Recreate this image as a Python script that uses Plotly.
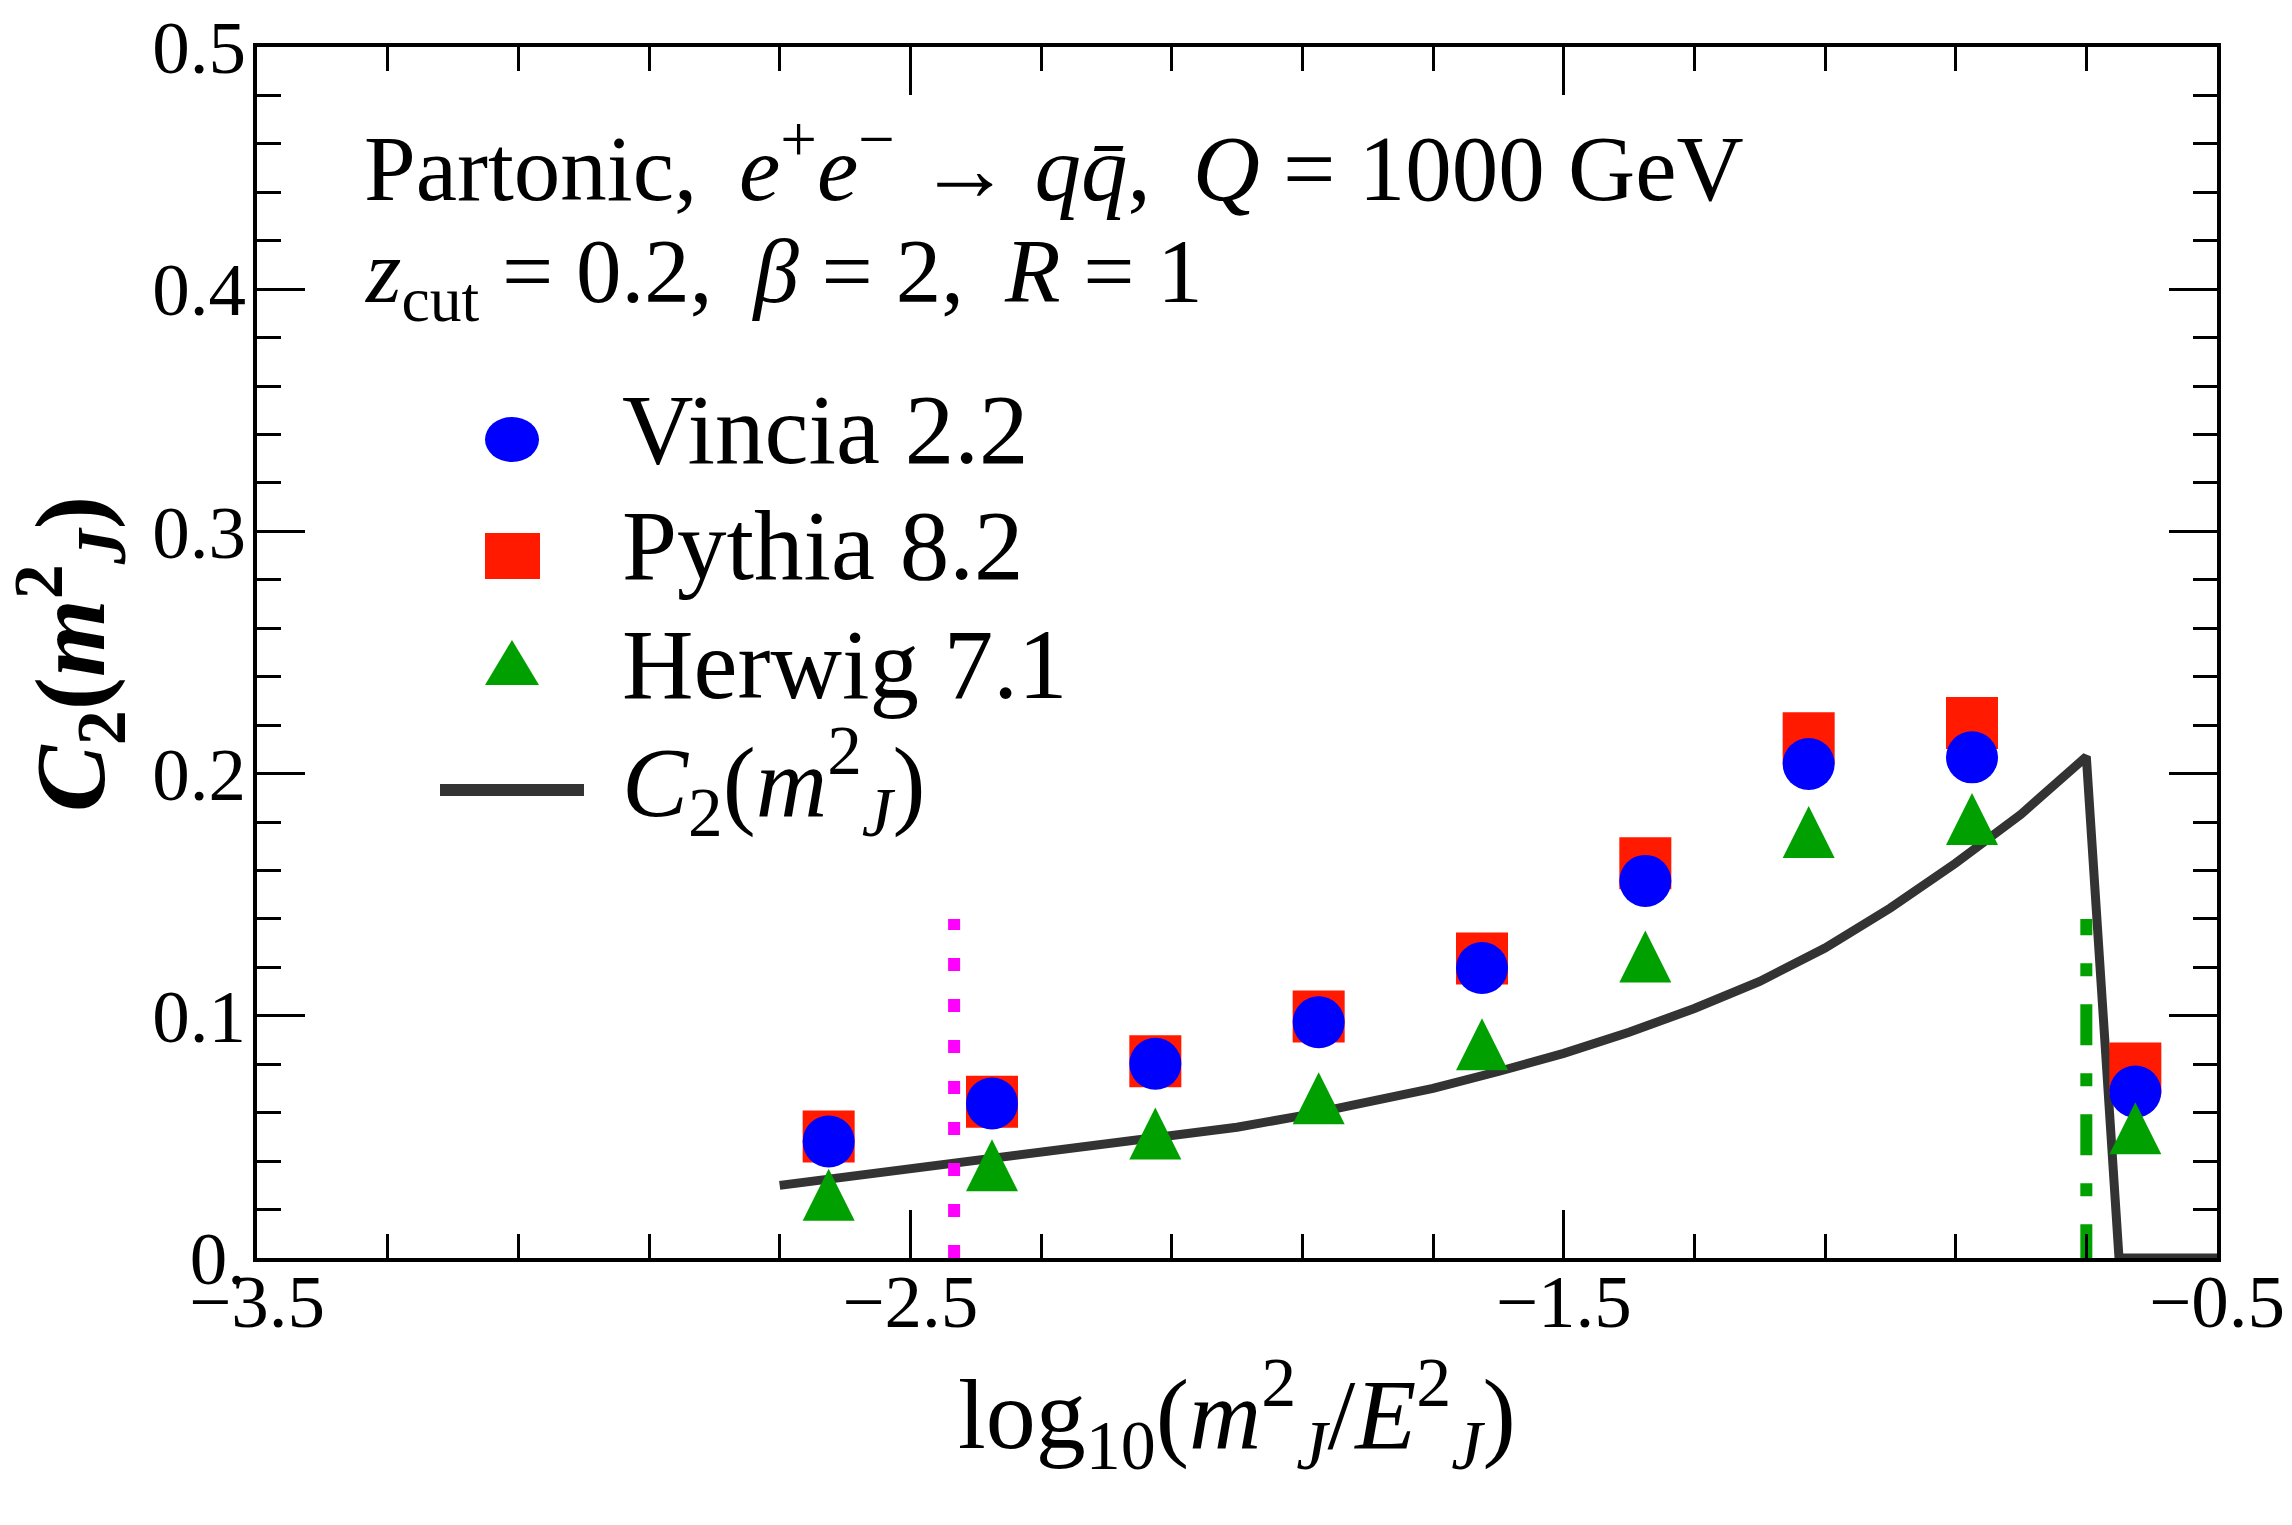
import plotly.graph_objects as go

# ---------------- data ----------------
bin_x = [-2.625, -2.375, -2.125, -1.875, -1.625, -1.375, -1.125, -0.875, -0.625]
vincia = [0.0481, 0.0638, 0.0802, 0.0973, 0.1197, 0.1557, 0.2040, 0.2067, 0.0687]
pythia = [0.0502, 0.0645, 0.0812, 0.0997, 0.1237, 0.1630, 0.2146, 0.2209, 0.0782]
herwig = [0.0261, 0.0383, 0.0514, 0.0660, 0.0883, 0.1245, 0.1759, 0.1813, 0.0536]

curve_x = [-2.70, -2.60, -2.50, -2.40, -2.30, -2.20, -2.10, -2.00, -1.90, -1.80, -1.70,
           -1.60, -1.50, -1.40, -1.30, -1.20, -1.10, -1.00, -0.90, -0.80, -0.70,
           -0.65, -0.50]
curve_y = [0.0300, 0.0334, 0.0367, 0.0398, 0.0430, 0.0464, 0.0500, 0.0540, 0.0588, 0.0640, 0.0700,
           0.0770, 0.0845, 0.0932, 0.1030, 0.1142, 0.1280, 0.1445, 0.1630, 0.1832, 0.2070,
           0.0, 0.0]

np_boundary_x = -2.433      # magenta dotted
resum_boundary_x = -0.70    # green dot-dashed
boundary_top = 0.14

x_range = [-3.5, -0.5]
y_range = [0.0, 0.5]
y_tickvals = [0.0, 0.1, 0.2, 0.3, 0.4, 0.5]
y_ticktext = ["0.", "0.1", "0.2", "0.3", "0.4", "0.5"]

legend_labels = ["Vincia 2.2", "Pythia 8.2", "Herwig 7.1",
                 "<i>C</i><sub>2</sub>(<i>m</i><sup>2</sup><sub><i>J</i></sub>)"]

# ---------------- layout geometry ----------------
W, H = 2292, 1525
L, R, T, B = 257, 2217, 47, 1258
PW, PH = R - L, B - T

BLUE = "#0000FF"
RED = "#FF1A00"
GREEN = "#00A000"
MAGENTA = "#FF00FF"
GREY = "#333333"
FONT = "Liberation Serif, Times New Roman, serif"

def px(xp):
    return (xp - L) / PW

def py(yp):
    return (B - yp) / PH

MS = 52
tri_offset = (MS / 2) / PH * (y_range[1] - y_range[0])

fig = go.Figure()

# theory curve
fig.add_trace(go.Scatter(x=curve_x, y=curve_y, mode="lines",
                         line=dict(color=GREY, width=9),
                         showlegend=False, hoverinfo="skip"))

# boundaries
fig.add_trace(go.Scatter(x=[np_boundary_x, np_boundary_x], y=[0, boundary_top], mode="lines",
                         line=dict(color=MAGENTA, width=12, dash="13px,28px"),
                         showlegend=False, hoverinfo="skip"))
fig.add_trace(go.Scatter(x=[resum_boundary_x, resum_boundary_x], y=[-0.003, boundary_top], mode="lines",
                         line=dict(color=GREEN, width=12, dash="41px,28px,13px,28px"),
                         showlegend=False, hoverinfo="skip"))

# MC points
fig.add_trace(go.Scatter(x=bin_x, y=pythia, mode="markers", name="Pythia 8.2",
                         marker=dict(symbol="square", size=MS, color=RED, line=dict(width=0)),
                         showlegend=False))
fig.add_trace(go.Scatter(x=bin_x, y=vincia, mode="markers", name="Vincia 2.2",
                         marker=dict(symbol="circle", size=MS, color=BLUE, line=dict(width=0)),
                         showlegend=False))
fig.add_trace(go.Scatter(x=bin_x, y=[v + tri_offset for v in herwig], mode="markers", name="Herwig 7.1",
                         marker=dict(symbol="arrow-up", size=MS, color=GREEN, line=dict(width=0)),
                         showlegend=False))

shapes = []
# legend keys
shapes.append(dict(type="circle", xref="paper", yref="paper",
                   x0=px(485), x1=px(539), y0=py(462), y1=py(417),
                   fillcolor=BLUE, line=dict(width=0)))
shapes.append(dict(type="rect", xref="paper", yref="paper",
                   x0=px(485), x1=px(540), y0=py(579), y1=py(533),
                   fillcolor=RED, line=dict(width=0)))
shapes.append(dict(type="path", xref="paper", yref="paper",
                   path="M {:.5f} {:.5f} L {:.5f} {:.5f} L {:.5f} {:.5f} Z".format(
                       px(485), py(685), px(539), py(685), px(512), py(640)),
                   fillcolor=GREEN, line=dict(width=0)))
shapes.append(dict(type="line", xref="paper", yref="paper",
                   x0=px(440), x1=px(584), y0=py(790), y1=py(790),
                   line=dict(color=GREY, width=12)))

annotations = []
leg_base = [463, 579, 698, 815]
for lab, b in zip(legend_labels, leg_base):
    annotations.append(dict(text=lab, xref="paper", yref="paper", x=px(620), y=py(b - 34),
                            xanchor="left", yanchor="middle", showarrow=False,
                            font=dict(family=FONT, size=99, color="black")))

annotations.append(dict(
    text="Partonic,\u2009 <i>e</i><sup>+</sup><i>e</i><sup>−</sup> → <i>q</i><i>q̄</i>,\u2009 <i>Q</i> = 1000 GeV",
    xref="paper", yref="paper", x=px(362), y=py(199 - 38), xanchor="left", yanchor="middle",
    showarrow=False, font=dict(family=FONT, size=93, color="black")))
annotations.append(dict(
    text="<i>z</i><sub>cut</sub> = 0.2,\u2009 <i>β</i> = 2,\u2009 <i>R</i> = 1",
    xref="paper", yref="paper", x=px(362), y=py(302 - 24), xanchor="left", yanchor="middle",
    showarrow=False, font=dict(family=FONT, size=91, color="black")))

# axis titles
annotations.append(dict(
    text="log<sub>10</sub>(<i>m</i><sup>2</sup><sub><i>J</i></sub>/<i>E</i><sup>2</sup><sub><i>J</i></sub>)",
    xref="paper", yref="paper", x=px(1237), y=py(1414), xanchor="center", yanchor="middle",
    showarrow=False, font=dict(family=FONT, size=100, color="black")))
annotations.append(dict(
    text="<b><i>C</i><sub>2</sub>(<i>m</i><sup>2</sup><sub><i>J</i></sub>)</b>",
    xref="paper", yref="paper", x=px(70), y=py(654), xanchor="center", yanchor="middle",
    textangle=-90, showarrow=False, font=dict(family=FONT, size=100, color="black")))

fig.update_layout(
    width=W, height=H,
    margin=dict(l=L, r=W - R, t=T, b=H - B, pad=0, autoexpand=False),
    paper_bgcolor="white", plot_bgcolor="white",
    showlegend=False,
    shapes=shapes, annotations=annotations,
    xaxis=dict(range=x_range, tickmode="linear", tick0=-3.5, dtick=1.0,
               showline=True, linewidth=4, linecolor="black", mirror="ticks",
               ticks="inside", ticklen=48, tickwidth=3, tickcolor="black",
               ticklabelstandoff=-25,
               tickfont=dict(family=FONT, size=75, color="black"),
               showgrid=False, zeroline=False,
               minor=dict(ticks="inside", ticklen=24, tickwidth=3, tickcolor="black",
                          tick0=-3.5, dtick=0.2, showgrid=False)),
    yaxis=dict(range=y_range, tickmode="array", tickvals=y_tickvals, ticktext=y_ticktext,
               showline=True, linewidth=4, linecolor="black", mirror="ticks",
               ticks="inside", ticklen=48, tickwidth=3, tickcolor="black",
               ticklabelstandoff=-8,
               tickfont=dict(family=FONT, size=75, color="black"),
               showgrid=False, zeroline=False,
               minor=dict(ticks="inside", ticklen=24, tickwidth=3, tickcolor="black",
                          tick0=0, dtick=0.02, showgrid=False)),
)

fig.write_html("out.html")
